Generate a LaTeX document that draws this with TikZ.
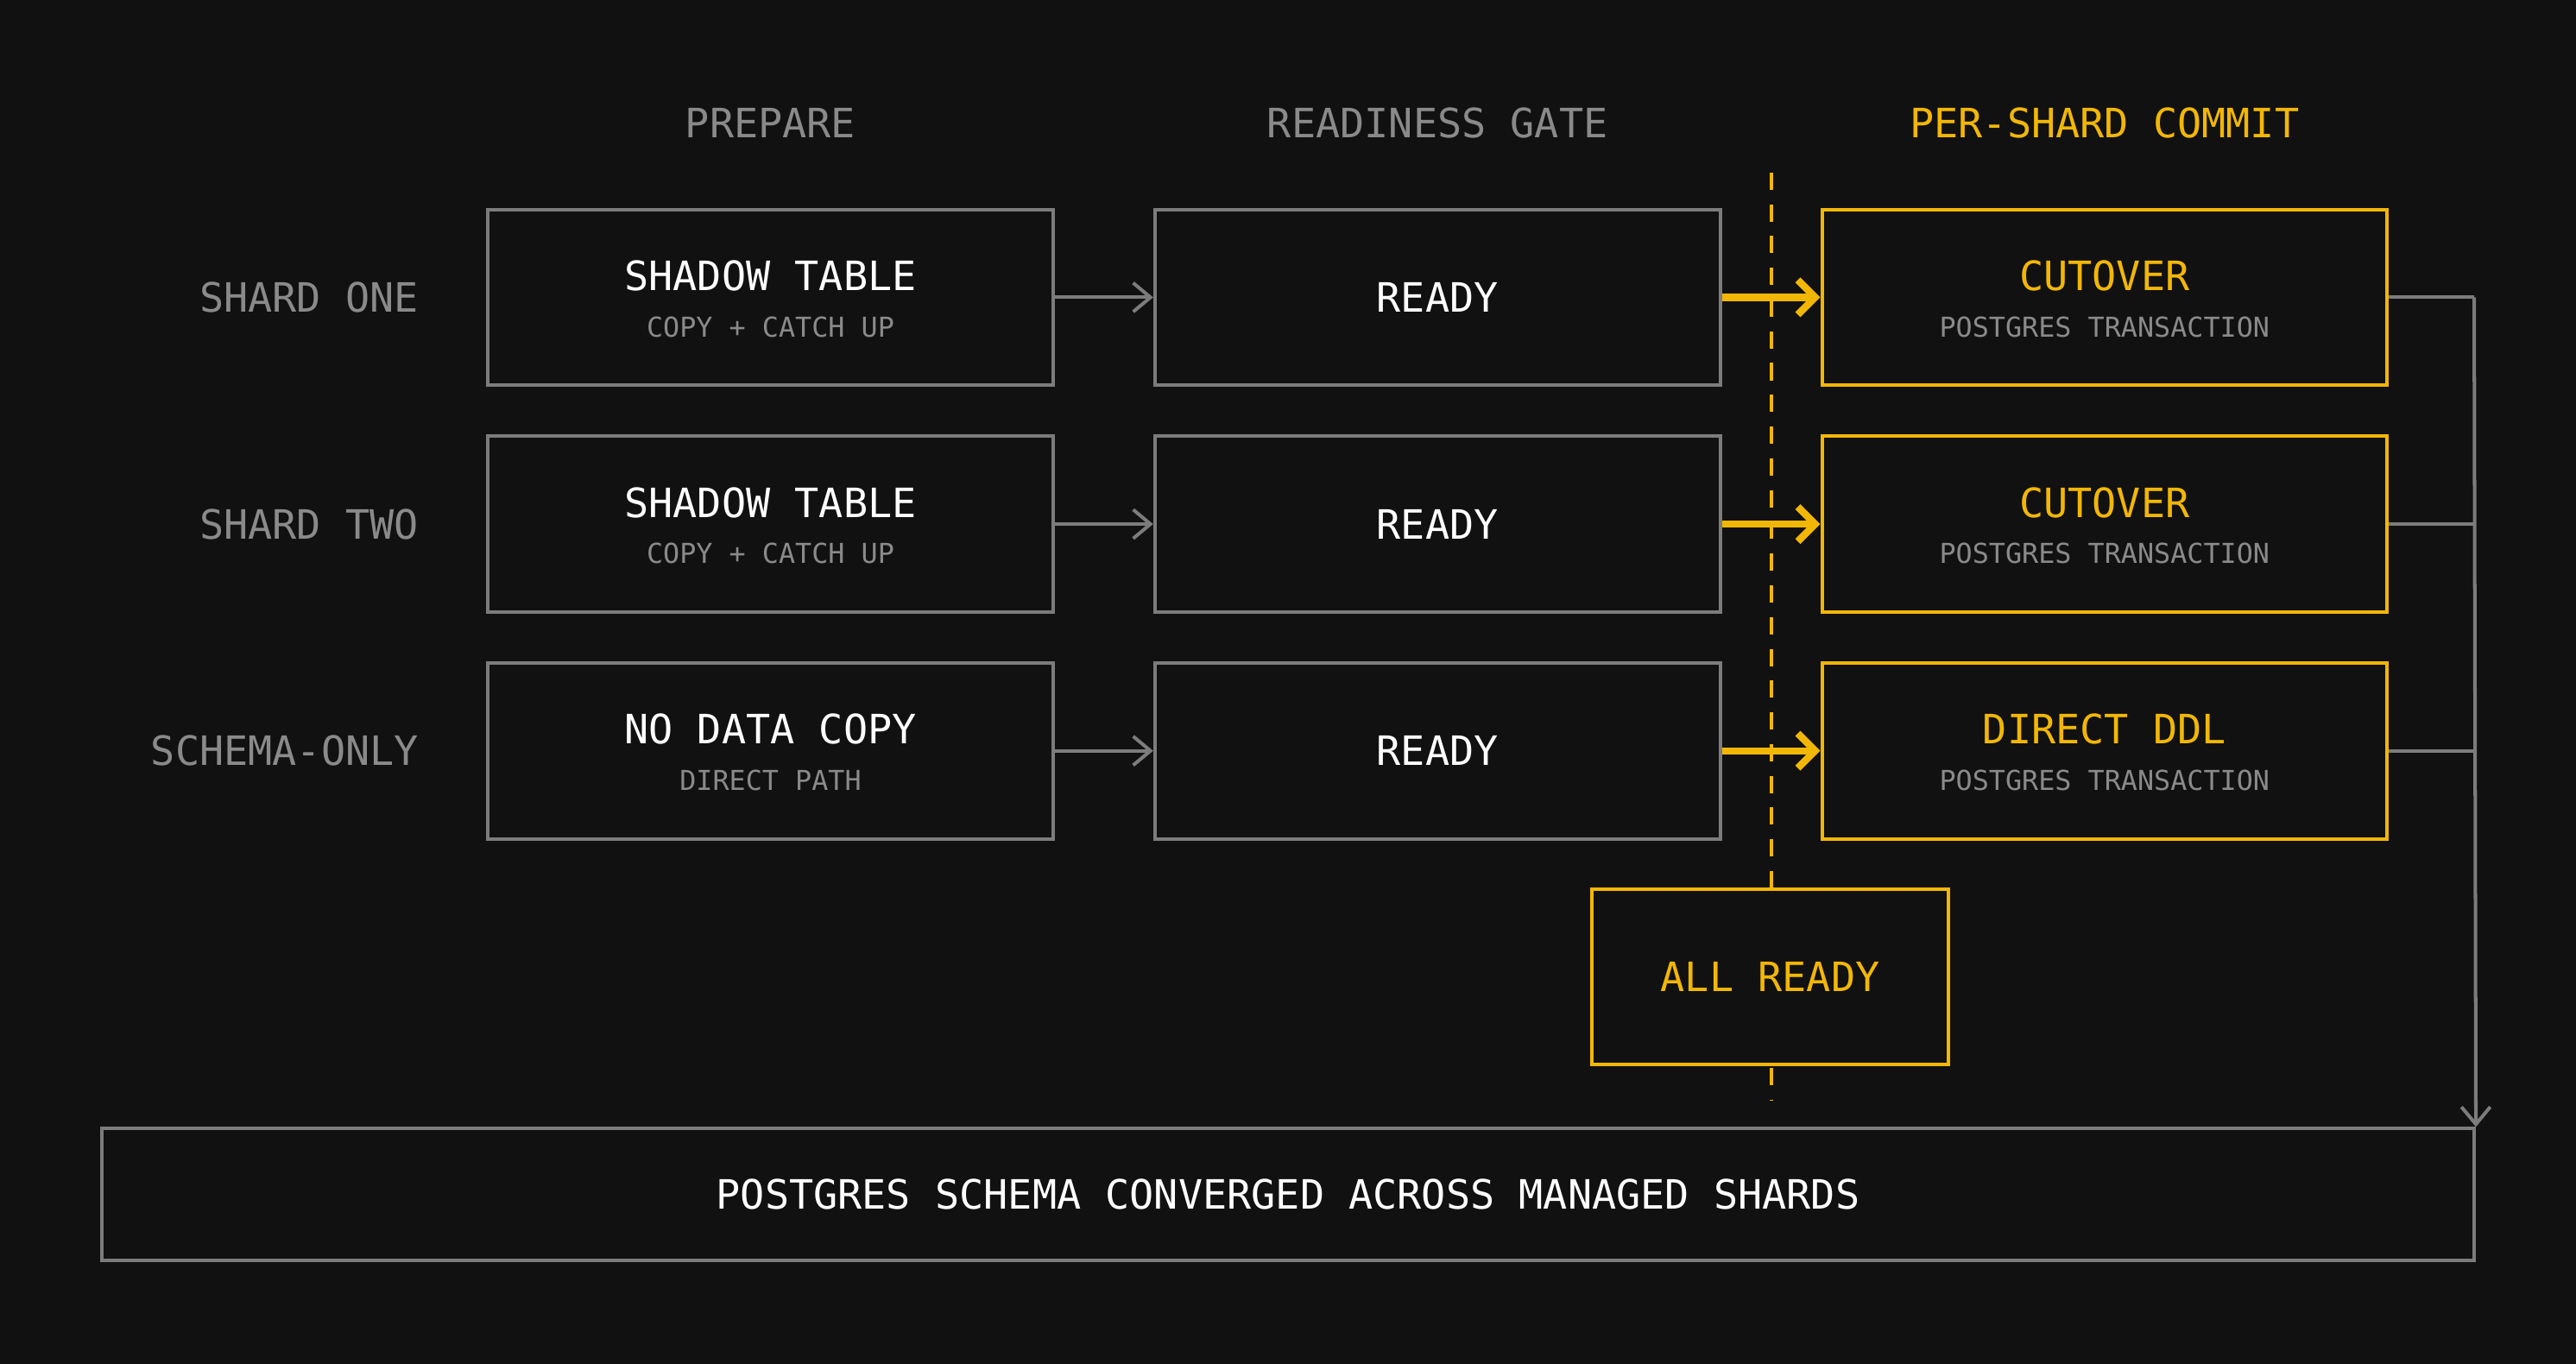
\documentclass[tikz,border=0pt]{standalone}
\usepackage{fontspec}
\setmonofont{DejaVu Sans Mono}
\usetikzlibrary{arrows.meta}
\definecolor{bg}{HTML}{111111}
\definecolor{yel}{HTML}{F2B705}
\definecolor{gr}{HTML}{8A8A8A}
\definecolor{bx}{HTML}{7C7C7C}
\begin{document}
\begin{tikzpicture}[x=0.02cm,y=-0.02cm,
  font=\ttfamily,
  box/.style={draw=bx,line width=1.2pt,fill=bg,inner sep=0pt},
  ybox/.style={draw=yel,line width=1.2pt,fill=bg,inner sep=0pt},
  hdr/.style={text=gr,font=\ttfamily\fontsize{14}{16}\selectfont},
  big/.style={text=white,font=\ttfamily\fontsize{14}{16}\selectfont},
  ybig/.style={text=yel,font=\ttfamily\fontsize{14}{16}\selectfont},
  small/.style={text=gr,font=\ttfamily\fontsize{9.5}{11}\selectfont},
  garr/.style={draw=bx,line width=1.2pt,-{Straight Barb[length=6pt,width=10pt]}},
  yarr/.style={draw=yel,line width=2.5pt,-{Straight Barb[length=6pt,width=12pt]}}]
\fill[bg] (0,0) rectangle (1568,830);
\useasboundingbox (0,0) rectangle (1568,830);
\node[hdr] (h1) at (469,75) {PREPARE};
\node[hdr] (h2) at (875,75) {READINESS GATE};
\node[hdr,text=yel] (h3) at (1281,75) {PER-SHARD COMMIT};
\draw[yel,line width=1.2pt,dash pattern=on 6pt off 5pt] (1078,105) -- (1078,540);
\draw[yel,line width=1.2pt,dash pattern=on 6pt off 5pt] (1078,650) -- (1078,670);
\foreach \i/\y/\lab/\pa/\pb/\ca in {1/181/SHARD ONE/SHADOW TABLE/COPY + CATCH UP/CUTOVER,
  2/319/SHARD TWO/SHADOW TABLE/COPY + CATCH UP/CUTOVER,
  3/457/SCHEMA-ONLY/NO DATA COPY/DIRECT PATH/DIRECT DDL}{
  \node[hdr,anchor=east] (l\i) at (261,\y) {\lab};
  \node[box,minimum width=344*0.02cm,minimum height=107*0.02cm] (p\i) at (469,\y) {};
  \node[big] at (469,\y-13) {\pa};
  \node[small] at (469,\y+18) {\pb};
  \node[box,minimum width=344*0.02cm,minimum height=107*0.02cm] (r\i) at (875,\y) {};
  \node[big] at (875,\y) {READY};
  \node[ybox,minimum width=344*0.02cm,minimum height=107*0.02cm] (c\i) at (1281,\y) {};
  \node[ybig] at (1281,\y-13) {\ca};
  \node[small] at (1281,\y+18) {POSTGRES TRANSACTION};
  \draw[garr] (p\i.east) -- (r\i.west);
  \draw[yarr] (r\i.east) -- (c\i.west);
  \draw[bx,line width=1.2pt] (c\i.east) -- (1506,\y);
}
\node[ybox,minimum width=217*0.02cm,minimum height=107*0.02cm] (all) at (1077.5,594.5) {};
\node[ybig] at (1077.5,594.5) {ALL READY};
\node[box,minimum width=1444*0.02cm,minimum height=80*0.02cm] (fin) at (784,727) {};
\node[big] at (784,727) {POSTGRES SCHEMA CONVERGED ACROSS MANAGED SHARDS};
\coordinate (turn) at (1506,181);
\draw[garr] (turn) -- (fin.north east);
\end{tikzpicture}
\end{document}
